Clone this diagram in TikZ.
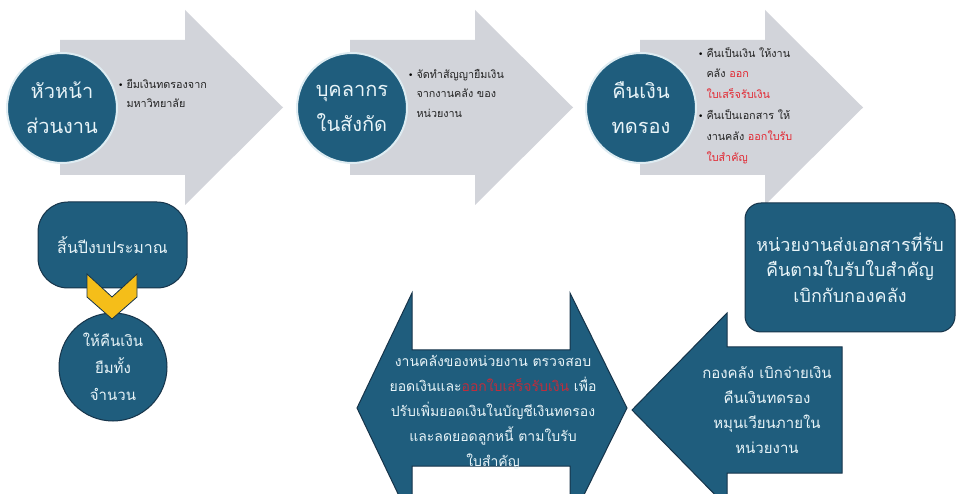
\documentclass[tikz,border=0pt]{standalone}
\usepackage{fontspec}
\setmainfont[Script=Thai]{Loma}
\newfontfamily\dejavu{DejaVu Sans}
\definecolor{tealblue}{RGB}{31,93,125}
\definecolor{darkline}{RGB}{22,52,74}
\definecolor{arrowgray}{RGB}{210,212,218}
\definecolor{ringcol}{RGB}{222,236,242}
\definecolor{bodytext}{RGB}{35,35,35}
\definecolor{redtext}{RGB}{226,40,50}
\definecolor{darkred}{RGB}{190,45,60}
\definecolor{lighttext}{RGB}{232,244,248}
\definecolor{gold}{RGB}{245,190,25}
\newcommand{\bul}{{\dejavu\fontsize{9}{9}\selectfont\textcolor{black}{•}}}
\tikzset{
  grayarrow/.style={fill=arrowgray, draw=none},
  bigcircle/.style={circle, fill=tealblue, draw=ringcol, line width=2pt, minimum size=110pt, inner sep=0pt, text=lighttext, align=center, font=\fontsize{20}{35}\selectfont},
  bullettext/.style={anchor=west, inner sep=0pt, text=bodytext, font=\fontsize{10.8}{19.5}\selectfont},
  darkshape/.style={fill=tealblue, draw=darkline, line width=1pt},
  lighttxt/.style={text=lighttext, align=center, inner sep=0pt}
}
\begin{document}
\begin{tikzpicture}[x=1pt,y=-1pt]
\useasboundingbox (0,0) rectangle (956,494);
\clip (0,0) rectangle (956,494);
% gray arrows
\foreach \dx in {0,290,580}{
  \fill[grayarrow] (60+\dx,40) -- (185+\dx,40) -- (185+\dx,10) -- (283+\dx,107.5) -- (185+\dx,205) -- (185+\dx,175) -- (60+\dx,175) -- cycle;
}
% circles
\node[bigcircle] (c1) at (62,108) {หัวหน้า\\ส่วนงาน};
\node[bigcircle] (c2) at (352,108) {บุคลากร\\ในสังกัด};
\node[bigcircle] (c3) at (641,108) {คืนเงิน\\ทดรอง};
% bullet texts
\node[bullettext] (t1) at (118,94) {\begin{tabular}{@{}l@{\hspace{3pt}}l@{}}\bul & ยืมเงินทดรองจาก\\ & มหาวิทยาลัย\end{tabular}};
\node[bullettext] (t2) at (408,94) {\begin{tabular}{@{}l@{\hspace{3pt}}l@{}}\bul & จัดทำสัญญายืมเงิน\\ & จากงานคลัง ของ\\ & หน่วยงาน\end{tabular}};
\node[bullettext, font=\fontsize{10.8}{20.8}\selectfont] (t3) at (698,105) {\begin{tabular}{@{}l@{\hspace{3pt}}l@{}}\bul & คืนเป็นเงิน ให้งาน\\ & คลัง \textcolor{redtext}{ออก}\\ & \textcolor{redtext}{ใบเสร็จรับเงิน}\\ \bul & คืนเป็นเอกสาร ให้\\ & งานคลัง \textcolor{redtext}{ออกใบรับ}\\ & \textcolor{redtext}{ใบสำคัญ}\end{tabular}};
% end of fiscal year box
\node[darkshape, rounded corners=30pt, minimum width=149pt, minimum height=86pt, lighttxt, font=\fontsize{16}{20}\selectfont] (endyear) at (112.5,245) {สิ้นปีงบประมาณ};
\node[circle, darkshape, minimum size=108pt, inner sep=0pt, lighttxt, font=\fontsize{15}{27}\selectfont] (repay) at (113,367) {ให้คืนเงิน\\ยืมทั้ง\\จำนวน};
\fill[gold, draw=darkline, line width=0.8pt] (87,274) -- (112,297) -- (137,274) -- (137,297) -- (112,319) -- (87,297) -- cycle;
% right box
\node[darkshape, rounded corners=16pt, minimum width=210pt, minimum height=129pt, lighttxt, font=\fontsize{18}{25.5}\selectfont] (send) at (850,267.5) {หน่วยงานส่งเอกสารที่รับ\\คืนตามใบรับใบสำคัญ\\เบิกกับกองคลัง};
% left arrow
\draw[darkshape] (842,347) -- (727,347) -- (727,313) -- (632,410) -- (727,507) -- (727,473) -- (842,473) -- cycle;
\node[lighttxt, font=\fontsize{15}{25.3}\selectfont] (pay) at (767,410) {กองคลัง เบิกจ่ายเงิน\\คืนเงินทดรอง\\หมุนเวียนภายใน\\หน่วยงาน};
% double arrow
\draw[darkshape] (357,408) -- (412,293) -- (412,350) -- (570,350) -- (570,293) -- (627,408) -- (570,523) -- (570,466) -- (412,466) -- (412,523) -- cycle;
\node[lighttxt, font=\fontsize{14}{25}\selectfont] (check) at (493,412) {งานคลังของหน่วยงาน ตรวจสอบ\\ยอดเงินและ\textcolor{darkred}{ออกใบเสร็จรับเงิน} เพื่อ\\ปรับเพิ่มยอดเงินในบัญชีเงินทดรอง\\และลดยอดลูกหนี้ ตามใบรับ\\ใบสำคัญ};
\end{tikzpicture}
\end{document}
